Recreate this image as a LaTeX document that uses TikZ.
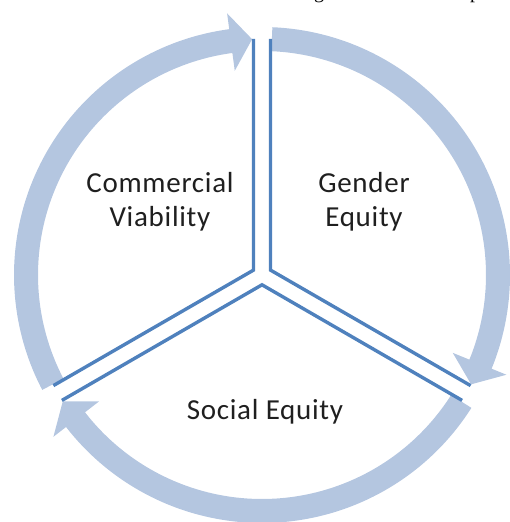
\documentclass[tikz,border=0pt]{standalone}
\usepackage{fontspec}
\setmainfont{Carlito}
\newfontfamily\captionfont[LetterSpace=2.5]{Carlito}
\newfontfamily\runningserif{Liberation Serif}
\definecolor{ringblue}{HTML}{B4C6E0}
\definecolor{armblue}{HTML}{4F81BD}

% one curved arrow of the cycle: tail angle, head base angle, tip angle
\newcommand\cyclearrow[3]{%
  \fill[ringarrow] (#1:248) arc[start angle=#1, end angle=#2, radius=248]
    -- (#2:264) -- (#3:236) -- (#2:206) -- (#2:224)
    arc[start angle=#2, end angle=#1, radius=224] -- cycle;}

\begin{document}
\begin{tikzpicture}[x=1pt,y=1pt,
  armline/.style={draw=armblue, line width=3.4pt, line join=miter},
  ringarrow/.style={fill=ringblue},
  caption/.style={font=\captionfont\fontsize{29}{34}\selectfont, text=black!88, anchor=base, inner sep=0pt},
  fragment/.style={font=\runningserif\fontsize{20}{20}\selectfont, anchor=base, inner sep=0pt}]
\useasboundingbox (0,0) rectangle (510,522);

% descenders of the text line above
\begin{scope}
  \clip (0,0) rectangle (510,522);
  \node[fragment] (fragg) at (319,523.8) {g};
  \node[fragment] (fragp) at (475,523.8) {p};
\end{scope}

\begin{scope}[shift={(262,247)}]
  % the three arrows of the cycle
  \cyclearrow{207.6}{97.6}{92.4}
  \cyclearrow{87.6}{-22.2}{-27.6}
  \cyclearrow{-32.4}{-142.2}{-147.6}

  % inner corners of the dividing Y
  \coordinate (cornerleft) at (150:9.8);
  \coordinate (cornerright) at (30:9.8);
  \coordinate (cornerbottom) at (270:9.8);
  % outer ends of the double lines
  \coordinate (topleft) at (-8.5,236);
  \coordinate (topright) at (8.5,236);
  \coordinate (leftupper) at (-208.6,-110.6);
  \coordinate (leftlower) at (-200.1,-125.4);
  \coordinate (rightupper) at (208.6,-110.6);
  \coordinate (rightlower) at (200.1,-125.4);

  \draw[armline] (topleft) -- (cornerleft) -- (leftupper);
  \draw[armline] (topright) -- (cornerright) -- (rightupper);
  \draw[armline] (leftlower) -- (cornerbottom) -- (rightlower);
\end{scope}

\node[caption] (commercial) at (160,329) {Commercial};
\node[caption] (viability) at (160,295) {Viability};
\node[caption] (gender) at (364,329) {Gender};
\node[caption] (equity) at (364,295) {Equity};
\node[caption] (social) at (265,102) {Social Equity};
\end{tikzpicture}
\end{document}
